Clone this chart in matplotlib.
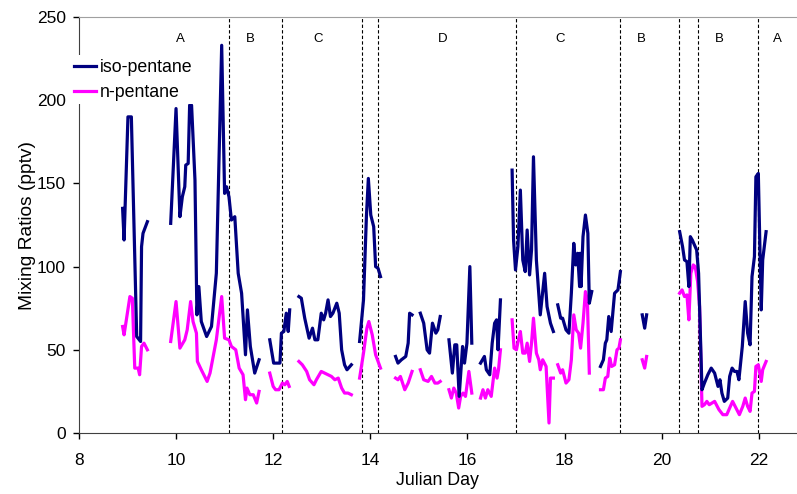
import numpy as np
import matplotlib
matplotlib.use('Agg')
import matplotlib.pyplot as plt

plt.rcParams['font.family'] = ['Liberation Sans', 'DejaVu Sans']

nan = np.nan

# iso-pentane (nan = gap in record)
iso_day = [8.90, 8.93, 9.01, 9.08, 9.19, 9.27, 9.29, 9.32, 9.41, 9.45,
           9.89, 10.00, 10.08, 10.13, 10.18, 10.20, 10.25, 10.28, 10.32, 10.39,
           10.43, 10.47, 10.52, 10.63, 10.73, 10.83, 10.94, 11.00, 11.04, 11.09,
           11.14, 11.21, 11.28, 11.35, 11.43, 11.47, 11.53, 11.62, 11.71, 11.80,
           11.93, 12.01, 12.14, 12.17, 12.22, 12.27, 12.31, 12.34, 12.44,
           12.53, 12.58, 12.65, 12.74, 12.81, 12.86, 12.92, 12.99, 13.04, 13.08,
           13.13, 13.18, 13.23, 13.31, 13.36, 13.41, 13.47, 13.52, 13.61, 13.70,
           13.78, 13.86, 13.92, 13.96, 14.01, 14.07, 14.11, 14.16, 14.21, 14.35,
           14.52, 14.57, 14.64, 14.73, 14.78, 14.81, 14.86, 14.95,
           15.03, 15.10, 15.17, 15.22, 15.28, 15.35, 15.39, 15.44, 15.53,
           15.62, 15.69, 15.74, 15.78, 15.83, 15.90, 15.94, 15.99, 16.05, 16.09, 16.18,
           16.27, 16.35, 16.39, 16.46, 16.51, 16.56, 16.60, 16.63, 16.68, 16.80,
           16.92, 16.95, 16.99, 17.04, 17.09, 17.14, 17.19, 17.23, 17.28, 17.32,
           17.36, 17.42, 17.50, 17.59, 17.64, 17.71, 17.77, 17.82,
           17.86, 17.92, 17.96, 18.03, 18.09, 18.14, 18.19, 18.23, 18.27, 18.31,
           18.32, 18.34, 18.38, 18.43, 18.48, 18.51, 18.56, 18.65,
           18.74, 18.80, 18.84, 18.87, 18.91, 18.96, 19.03, 19.10, 19.15, 19.40,
           19.60, 19.65, 19.69, 20.00,
           20.37, 20.43, 20.47, 20.52, 20.56, 20.59, 20.63, 20.69, 20.72, 20.76,
           20.83, 20.88, 20.95, 21.02, 21.09, 21.16, 21.20, 21.24, 21.29, 21.36,
           21.40, 21.45, 21.50, 21.55, 21.59, 21.66, 21.72, 21.77, 21.82, 21.86,
           21.91, 21.94, 21.99, 22.05, 22.08, 22.15]
iso_ppt = [135, 116, 190, 190, 58, 55, 112, 120, 127, nan,
           126, 195, 130, 142, 148, 161, 162, 197, 197, 152,
           71, 88, 67, 58, 64, 96, 233, 144, 148, 142,
           128, 130, 96, 84, 47, 74, 52, 36, 44, nan,
           56, 42, 42, 60, 61, 72, 61, 74, nan,
           82, 81, 69, 57, 63, 56, 56, 72, 68, 72,
           80, 70, 72, 78, 72, 50, 41, 38, 41, nan,
           55, 80, 130, 153, 131, 124, 100, 99, 94, nan,
           46, 42, 44, 46, 54, 72, 71, nan,
           72, 66, 50, 48, 66, 60, 62, 70, nan,
           56, 36, 53, 53, 22, 52, 42, 54, 100, 54, nan,
           42, 46, 38, 35, 54, 66, 68, 50, 80, nan,
           158, 116, 98, 112, 146, 104, 97, 122, 95, 110,
           166, 104, 71, 96, 76, 66, 61, nan,
           77, 69, 69, 62, 60, 84, 114, 101, 108, 88,
           108, 88, 118, 131, 120, 78, 85, nan,
           40, 44, 54, 56, 70, 61, 84, 86, 97, nan,
           71, 63, 71, nan,
           121, 112, 104, 103, 88, 118, 116, 112, 110, 96,
           26, 30, 35, 39, 36, 28, 32, 24, 19, 21,
           34, 39, 37, 37, 32, 52, 79, 60, 53, 94,
           106, 154, 156, 74, 104, 121]

# n-pentane
n_day = [8.90, 8.93, 9.05, 9.10, 9.15, 9.22, 9.25, 9.29, 9.34, 9.41, 9.45,
         9.89, 10.00, 10.08, 10.18, 10.23, 10.30, 10.35, 10.42, 10.44, 10.52,
         10.64, 10.70, 10.83, 10.94, 11.00, 11.09, 11.14, 11.23, 11.30, 11.38,
         11.43, 11.46, 11.52, 11.59, 11.66, 11.71, 11.80,
         11.93, 12.00, 12.05, 12.12, 12.19, 12.24, 12.29, 12.33, 12.44,
         12.53, 12.60, 12.69, 12.75, 12.84, 12.89, 12.99, 13.06, 13.13, 13.20,
         13.27, 13.34, 13.41, 13.47, 13.54, 13.61, 13.70,
         13.78, 13.86, 13.93, 13.97, 14.04, 14.11, 14.21, 14.35,
         14.52, 14.57, 14.62, 14.71, 14.78, 14.86, 14.95,
         15.03, 15.10, 15.19, 15.26, 15.33, 15.39, 15.44, 15.53,
         15.62, 15.67, 15.72, 15.77, 15.82, 15.86, 15.91, 15.96, 16.03, 16.09, 16.18,
         16.27, 16.32, 16.37, 16.42, 16.49, 16.56, 16.61, 16.64, 16.68, 16.80,
         16.92, 16.96, 17.01, 17.05, 17.09, 17.14, 17.19, 17.23, 17.28, 17.32,
         17.36, 17.42, 17.47, 17.50, 17.55, 17.62, 17.68, 17.71, 17.77, 17.82,
         17.86, 17.92, 17.96, 18.03, 18.09, 18.14, 18.19, 18.24, 18.29, 18.33,
         18.38, 18.43, 18.47, 18.51, 18.65,
         18.74, 18.80, 18.84, 18.89, 18.93, 18.97, 19.03, 19.08, 19.12, 19.15, 19.40,
         19.60, 19.65, 19.69, 20.00,
         20.37, 20.42, 20.47, 20.52, 20.56, 20.60, 20.65, 20.69, 20.74, 20.78,
         20.83, 20.88, 20.93, 20.98, 21.09, 21.18, 21.26, 21.34, 21.40, 21.46,
         21.53, 21.60, 21.67, 21.72, 21.77, 21.82, 21.86, 21.91, 21.94, 21.99,
         22.05, 22.08, 22.15]
n_ppt = [64, 59, 82, 81, 39, 39, 35, 52, 54, 50, nan,
         55, 79, 51, 56, 62, 79, 67, 60, 43, 38,
         31, 36, 56, 82, 57, 56, 52, 50, 39, 35,
         20, 27, 23, 23, 18, 25, nan,
         36, 28, 26, 26, 30, 29, 31, 28, nan,
         43, 41, 37, 32, 29, 32, 37, 36, 35, 34,
         32, 33, 27, 24, 24, 23, nan,
         33, 48, 63, 67, 59, 47, 39, nan,
         33, 32, 34, 26, 30, 37, nan,
         38, 32, 31, 34, 30, 30, 31, nan,
         26, 21, 27, 24, 15, 22, 24, 22, 37, 24, nan,
         21, 26, 21, 26, 22, 39, 33, 38, 50, nan,
         68, 51, 50, 56, 61, 48, 48, 54, 43, 54,
         69, 48, 44, 38, 44, 40, 6, 33, 33, nan,
         41, 36, 38, 30, 32, 44, 71, 62, 60, 51,
         66, 85, 80, 36, nan,
         26, 26, 33, 34, 45, 40, 41, 50, 51, 56, nan,
         44, 39, 46, nan,
         84, 86, 82, 83, 68, 96, 101, 100, 91, 76,
         16, 17, 19, 17, 19, 14, 11, 11, 15, 19,
         15, 11, 16, 21, 16, 13, 24, 25, 40, 41,
         31, 38, 43]

# sampling-region boundaries and labels
bound_day = [11.09, 12.18, 13.83, 14.15, 17.01, 19.15, 20.36, 20.74, 21.99]
region_day = [10.08, 11.52, 12.92, 15.49, 17.90, 19.58, 21.19, 22.38]
region_lab = ['A', 'B', 'C', 'D', 'C', 'B', 'B', 'A']

fig = plt.figure(figsize=(7.97, 4.94), dpi=100)
ax = fig.add_axes([0.099, 0.1235, 0.900, 0.842])

for d in bound_day:
    ax.axvline(d, color='black', lw=0.8, ls=(0, (3, 2)), zorder=1)
for d, lab in zip(region_day, region_lab):
    ax.text(d, 237, lab, ha='center', va='center', fontsize=9.5)

ax.plot(iso_day, iso_ppt, color='#000080', lw=2.3, label='iso-pentane', zorder=3)
ax.plot(n_day, n_ppt, color='#FF00FF', lw=2.3, label='n-pentane', zorder=2)

ax.set_xlim(8, 22.77)
ax.set_ylim(0, 250)
ax.set_xticks(range(8, 23, 2))
ax.set_yticks(range(0, 251, 50))
ax.tick_params(direction='out', length=4.5, labelsize=12.5, width=1)
ax.tick_params(axis='x', pad=10)
ax.tick_params(axis='y', pad=5)
ax.spines['right'].set_visible(False)
ax.spines['top'].set_color('#a0a0a0')
ax.spines['left'].set_color('#404040')
ax.spines['bottom'].set_color('#404040')
ax.set_xlabel('Julian Day', fontsize=12.8, labelpad=3)
ax.set_ylabel('Mixing Ratios (pptv)', fontsize=13.8, labelpad=0.5)

leg = ax.legend(loc='upper left', bbox_to_anchor=(-0.012, 0.908), fontsize=12.8,
                frameon=True, framealpha=1, facecolor='white', edgecolor='none',
                fancybox=False, handlelength=1.25, handletextpad=0.22,
                labelspacing=0.45, borderpad=0.2, borderaxespad=0)
leg.set_zorder(5)

fig.savefig('out.png', dpi=100)
